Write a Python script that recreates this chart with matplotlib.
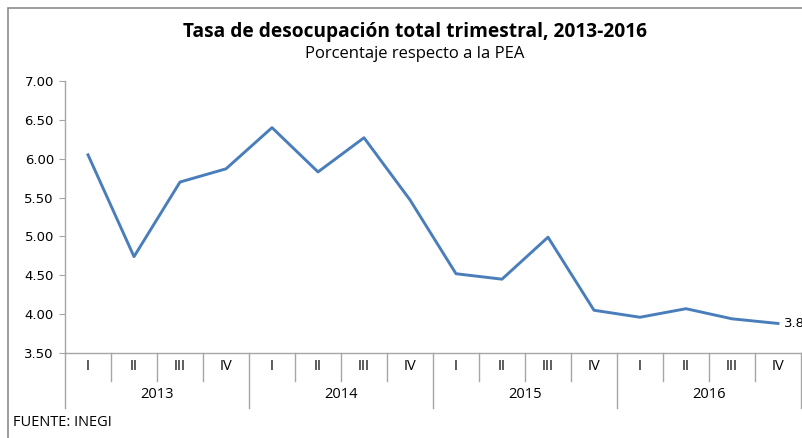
import numpy as np
import matplotlib
matplotlib.use('Agg')
import matplotlib.pyplot as plt
import matplotlib.transforms as mtransforms
from matplotlib.patches import Rectangle

# Tasa de desocupación trimestral (% de la PEA)
years = ['2013', '2014', '2015', '2016']
quarters = ['I', 'II', 'III', 'IV']
rate = [6.05, 4.74, 5.70, 5.87,
        6.40, 5.83, 6.27, 5.47,
        4.52, 4.45, 4.99, 4.05,
        3.96, 4.07, 3.94, 3.88]
last_label = '3.88'

line_color = '#4a7ebb'
gray = '#a6a6a6'

fig = plt.figure(figsize=(8.03, 4.38), dpi=100)
W, H = 803, 438
ax = fig.add_axes([65 / W, (H - 353) / H, (801 - 65) / W, (353 - 81) / H])

x = np.arange(len(rate))
ax.plot(x, rate, color=line_color, linewidth=2.1, solid_joinstyle='round')
ax.annotate(last_label, (x[-1], rate[-1]), xytext=(4, 0), textcoords='offset points',
            va='center', ha='left', fontsize=9.5, family='DejaVu Sans', annotation_clip=False)

ax.set_xlim(-0.5, len(rate) - 0.5)
ax.set_ylim(3.5, 7.0)
ax.set_yticks(np.arange(3.5, 7.01, 0.5))
ax.set_yticklabels(['%.2f' % v for v in np.arange(3.5, 7.01, 0.5)], family='DejaVu Sans', fontsize=9.5)
ax.tick_params(axis='y', length=4, color=gray, pad=4)
ax.set_xticks([])
for s in ['top', 'right']:
    ax.spines[s].set_visible(False)
for s in ['left', 'bottom']:
    ax.spines[s].set_color(gray)
    ax.spines[s].set_linewidth(1.0)

# multi-level category axis
trans = mtransforms.blended_transform_factory(ax.transData, ax.transAxes)
row1 = -28 / 272
row2 = -55 / 272
for i in range(len(rate) + 1):
    b = i - 0.5
    y_end = row2 if i % 4 == 0 else row1
    ax.plot([b, b], [0, y_end], color=gray, linewidth=1.0, transform=trans, clip_on=False)
for i in range(len(rate)):
    ax.text(i, row1 / 2, quarters[i % 4], transform=trans, ha='center', va='center',
            fontsize=10.5, family='Open Sans')
for j, yr in enumerate(years):
    ax.text(j * 4 + 1.5, (row1 + row2) / 2, yr, transform=trans, ha='center', va='center',
            fontsize=10.5, family='Open Sans')

fig.text(415 / W, 1 - 32 / H, 'Tasa de desocupación total trimestral, 2013-2016',
         ha='center', va='center', fontsize=13.8, fontweight='bold', family='Open Sans')
fig.text(415 / W, 1 - 54 / H, 'Porcentaje respecto a la PEA',
         ha='center', va='center', fontsize=12, family='Open Sans')
fig.text(13 / W, 1 - 423 / H, 'FUENTE: INEGI', ha='left', va='center',
         fontsize=10.5, family='Open Sans')

# outer frame of the chart
fig.patches.append(Rectangle((8 / W, -0.1), 1.2, 1 - 8 / H + 0.1, transform=fig.transFigure,
                             fill=False, edgecolor='#8c8c8c', linewidth=1.2))

fig.savefig('out.png', dpi=100)
